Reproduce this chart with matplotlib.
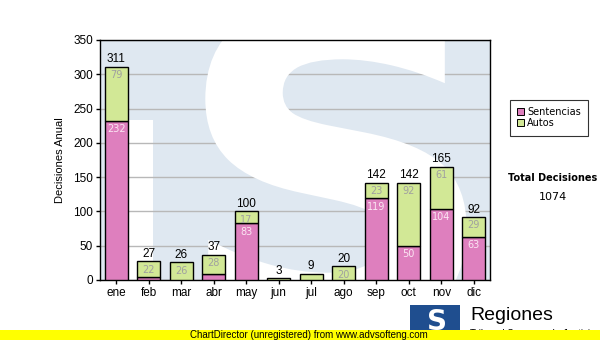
import matplotlib.pyplot as plt
from matplotlib.patches import Rectangle, PathPatch, Patch
from matplotlib.textpath import TextPath
from matplotlib.font_manager import FontProperties
from matplotlib.transforms import Affine2D

months = ["ene", "feb", "mar", "abr", "may", "jun", "jul", "ago", "sep", "oct", "nov", "dic"]
sentencias = [232, 5, 0, 9, 83, 0, 0, 0, 119, 50, 104, 63]
autos = [79, 22, 26, 28, 17, 3, 9, 20, 23, 92, 61, 29]
totals = [s + a for s, a in zip(sentencias, autos)]
total_all = sum(totals)

pink = "#de7fbe"
green = "#d2e896"
bg_blue = "#dfe8f1"

fig = plt.figure(figsize=(6, 3.4), dpi=100)
ax = fig.add_axes([100 / 600, 60 / 340, 390 / 600, 240 / 340])
ax.set_facecolor(bg_blue)

# watermark: white gap of the "T" and a big white "S"
ax.add_patch(Rectangle((0.36, 0), 0.77, 233, facecolor="white", edgecolor="none", zorder=0.5))
tp = TextPath((0, 0), "S", prop=FontProperties(family="DejaVu Sans", weight="bold"), size=1)
ext = tp.get_extents()
x0, x1, y0, y1 = 0.27, 0.94, -0.22, 1.17
tr = Affine2D().translate(-ext.x0, -ext.y0).scale((x1 - x0) / ext.width, (y1 - y0) / ext.height).translate(x0, y0)
ax.add_patch(PathPatch(tr.transform_path(tp), facecolor="white", edgecolor="none",
                       transform=ax.transAxes, zorder=0.6, clip_on=True))

x = list(range(len(months)))
w = 0.7
ax.bar(x, sentencias, width=w, color=pink, edgecolor="black", linewidth=1.0, zorder=3)
ax.bar(x, autos, width=w, bottom=sentencias, color=green, edgecolor="black", linewidth=1.0, zorder=3)

for i in x:
    ax.annotate(str(totals[i]), (i, totals[i]), xytext=(0, 1), textcoords="offset points",
                ha="center", va="bottom", fontsize=8.5, family="Liberation Sans", zorder=5)
    if sentencias[i] >= 15:
        ax.annotate(str(sentencias[i]), (i, sentencias[i]), xytext=(0, -2.5), textcoords="offset points",
                    ha="center", va="top", fontsize=7, color="#fbe6f3", zorder=5)
    if autos[i] >= 15:
        ax.annotate(str(autos[i]), (i, totals[i]), xytext=(0, -2.5), textcoords="offset points",
                    ha="center", va="top", fontsize=7, color="#a0a0a0", zorder=5)

ax.set_xlim(-0.5, 11.5)
ax.set_ylim(0, 350)
ax.set_yticks(range(0, 351, 50))
ax.set_xticks(x)
ax.set_xticklabels(months)
ax.yaxis.grid(True, color="#b8b8b8", linewidth=1.0, zorder=1)
ax.set_axisbelow(True)
ax.tick_params(axis="both", labelsize=8.5, length=3, width=1, direction="out", pad=2)
for lab in ax.get_xticklabels() + ax.get_yticklabels():
    lab.set_family("Liberation Sans")
for s in ax.spines.values():
    s.set_linewidth(1.0)
ax.set_ylabel("Decisiones Anual", fontsize=8, family="Liberation Sans", labelpad=6)

# legend
handles = [Patch(facecolor=pink, edgecolor="black", linewidth=0.7),
           Patch(facecolor=green, edgecolor="black", linewidth=0.7)]
leg = fig.legend(handles, ["Sentencias", "Autos"], loc="upper left", bbox_to_anchor=(510 / 600, 1 - 100 / 340),
                 fontsize=7, frameon=True, fancybox=False,
                 edgecolor="black", handlelength=0.7, handleheight=0.7, handletextpad=0.3,
                 borderpad=0.75, labelspacing=0.1, borderaxespad=0)
leg.get_frame().set_linewidth(0.8)

fig.text(553 / 600, 1 - 178 / 340, "Total Decisiones", ha="center", va="center", fontsize=7, weight="bold")
fig.text(553 / 600, 1 - 197 / 340, str(total_all), ha="center", va="center", fontsize=8)

# footer logo
fig.patches.append(Rectangle((410 / 600, 1 - 338 / 340), 50 / 600, 33 / 340, transform=fig.transFigure,
                             facecolor="#1f4e8f", edgecolor="none", zorder=1))
fig.text(437 / 600, 1 - 322 / 340, "S", ha="center", va="center", fontsize=20, weight="bold",
         color="white", zorder=2)
fig.text(470 / 600, 1 - 316 / 340, "Regiones", ha="left", va="center", fontsize=14,
         family="Liberation Sans", zorder=2)
fig.text(470 / 600, 1 - 334 / 340, "Tribunal Supremo de Justicia", ha="left", va="center", fontsize=7,
         family="Liberation Sans", zorder=2)
fig.patches.append(Rectangle((0, 0), 1, 10 / 340, transform=fig.transFigure,
                             facecolor="#ffff00", edgecolor="none", zorder=3))
fig.text(190 / 600, 5 / 340, "ChartDirector (unregistered) from www.advsofteng.com", ha="left",
         va="center", fontsize=7, family="Liberation Sans", zorder=4)

fig.savefig("out.png", dpi=100)
